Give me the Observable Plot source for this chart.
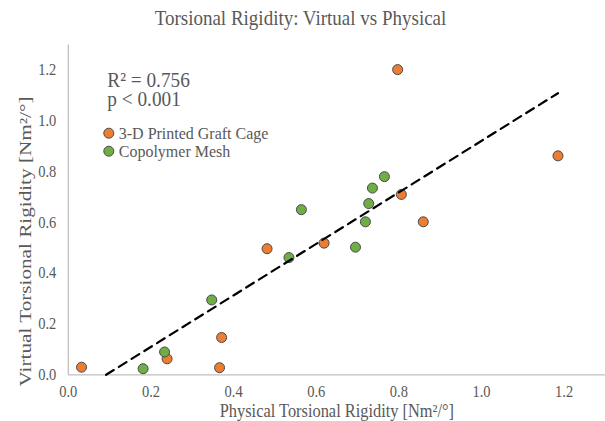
<!DOCTYPE html>
<html><head><meta charset="utf-8">
<script src="https://cdn.jsdelivr.net/npm/d3@7"></script>
<script src="https://cdn.jsdelivr.net/npm/@observablehq/plot@0.6"></script>
<style>
body{margin:0;background:#fff;font-family:"Liberation Serif","Times New Roman",serif;}
#title{height:36px;line-height:36px;text-align:center;color:#595959;font-size:19px;width:601px;}
#title span{display:inline-block;transform:scaleY(1.12);}
</style></head><body>
<div id="title"><span id="titleSpan"></span></div>
<div id="chart"></div>
<script>
const titleText = "Torsional Rigidity: Virtual vs Physical";
const seriesNames = ["3-D Printed Graft Cage", "Copolymer Mesh"];
const seriesColors = ["#ED7D31", "#70AD47"];
const cageX = [0.032, 0.239, 0.366, 0.371, 0.481, 0.619, 0.797, 0.806, 0.859, 1.185];
const cageY = [0.030, 0.063, 0.028, 0.147, 0.497, 0.519, 1.203, 0.711, 0.603, 0.863];
const meshX = [0.181, 0.233, 0.347, 0.534, 0.564, 0.695, 0.719, 0.727, 0.736, 0.765];
const meshY = [0.024, 0.090, 0.295, 0.462, 0.651, 0.503, 0.603, 0.675, 0.736, 0.781];
const trendX = [0.0915, 1.185];
const trendY = [0, 1.110];
const xTicks = [0, 0.2, 0.4, 0.6, 0.8, 1.0, 1.2];
const yTicks = [0, 0.2, 0.4, 0.6, 0.8, 1.0, 1.2];
const statsLines = ["R² = 0.756", "p < 0.001"];
const xLabel = "Physical Torsional Rigidity [Nm²/°]";
const yLabel = "Virtual Torsional Rigidity [Nm²/°]";

document.getElementById("titleSpan").textContent = titleText;

const cage = cageX.map((x, i) => ({x, y: cageY[i]}));
const mesh = meshX.map((x, i) => ({x, y: meshY[i]}));
const trend = trendX.map((x, i) => ({x, y: trendY[i]}));
const fmt = d3.format(".1f");
const dotStroke = "#4a4a4a";
const textColor = "#595959";

const legendMarks = seriesNames.flatMap((name, i) => [
  Plot.dot([name], {frameAnchor: "top-left", dx: 40.5, dy: 88.2 + i * 18, r: 5, fill: seriesColors[i], stroke: dotStroke, strokeWidth: 1}),
  Plot.text([name], {frameAnchor: "top-left", dx: 50.5, dy: 88.2 + i * 18, text: d => d, textAnchor: "start", lineAnchor: "middle", fontSize: 16, fill: textColor})
]);

const chart = Plot.plot({
  width: 605, height: 385,
  marginLeft: 67.8, marginRight: 0, marginTop: 8.5, marginBottom: 46.7,
  style: {fontFamily: "'Liberation Serif', 'Times New Roman', serif", fontSize: "14.5px", color: textColor, background: "#fff"},
  x: {domain: [0, 1.3]},
  y: {domain: [0, 1.3]},
  marks: [
    Plot.ruleY([0], {stroke: "#c0c0c0", strokeWidth: 1.3}),
    Plot.ruleX([0], {stroke: "#c0c0c0", strokeWidth: 1.3}),
    Plot.axisX({ticks: xTicks, tickFormat: fmt, tickSize: 0, tickPadding: 10.4, label: null, fontSize: 14.5}),
    Plot.axisY({ticks: yTicks, tickFormat: fmt, tickSize: 0, tickPadding: 12, label: null, fontSize: 14.5}),
    Plot.dot(cage, {x: "x", y: "y", r: 5, fill: seriesColors[0], stroke: dotStroke, strokeWidth: 1}),
    Plot.dot(mesh, {x: "x", y: "y", r: 5, fill: seriesColors[1], stroke: dotStroke, strokeWidth: 1}),
    Plot.line(trend, {x: "x", y: "y", stroke: "#000", strokeWidth: 2.2, strokeDasharray: "9,6"}),
    Plot.text([statsLines.join("\n")], {frameAnchor: "top-left", dx: 39, dy: 28.7, text: d => d, textAnchor: "start", lineAnchor: "top", fontSize: 19.3, lineHeight: 0.9, fill: textColor}),
    ...legendMarks,
    Plot.text([xLabel], {frameAnchor: "bottom", dy: 36, text: d => d, textAnchor: "middle", lineAnchor: "middle", fontSize: 16.4, fill: textColor}),
    Plot.text([yLabel], {frameAnchor: "left", dx: -42.8, dy: 31.6, rotate: -90, text: d => d, textAnchor: "middle", lineAnchor: "middle", fontSize: 16, fill: textColor})
  ]
});
document.getElementById("chart").appendChild(chart);

// slight glyph stretching to mimic the reference rendering
d3.select(chart).selectAll("text").each(function() {
  const t = d3.select(this);
  const isY = this.textContent === yLabel;
  let tr = t.attr("transform") || "";
  const ax = t.attr("x"), ay = t.attr("y");
  const nx = ax != null && isFinite(+ax) ? +ax : 0;
  const ny = ay != null && isFinite(+ay) ? +ay : 0;
  if (nx || ny) {
    if (ax != null && isFinite(+ax)) t.attr("x", null);
    if (ay != null && isFinite(+ay)) t.attr("y", null);
    tr += ` translate(${nx},${ny})`;
  }
  let sc = "scale(1,1.1)";
  if (isY) {
    const len = this.getComputedTextLength();
    sc = `scale(${(290 / len).toFixed(3)},1)`;
  }
  t.attr("transform", `${tr} ${sc}`);
});
</script>
</body></html>
